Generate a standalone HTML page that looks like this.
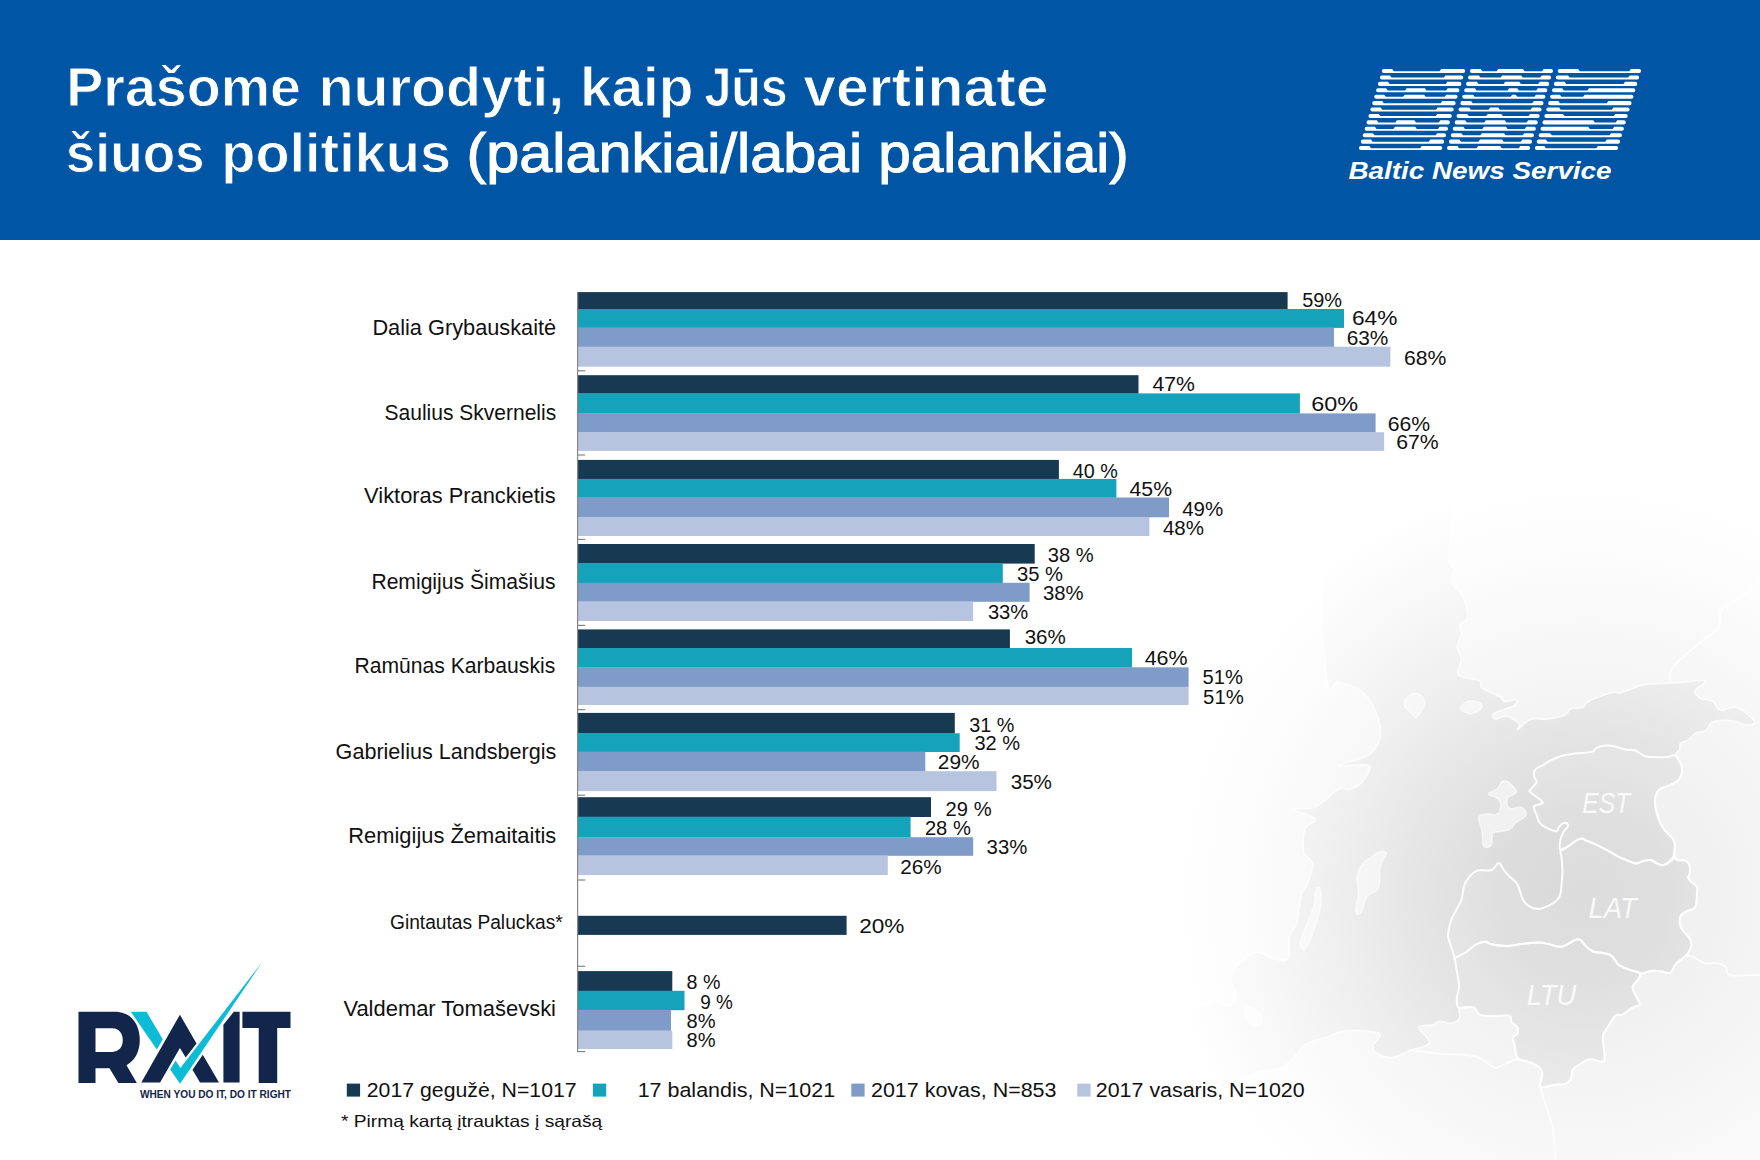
<!DOCTYPE html>
<html lang="lt"><head><meta charset="utf-8"><title>BNS / RAIT</title>
<style>
html,body{margin:0;padding:0;background:#fff;}
body{width:1760px;height:1160px;overflow:hidden;font-family:"Liberation Sans", sans-serif;}
svg{display:block;font-family:"Liberation Sans", sans-serif;}
text{font-family:"Liberation Sans", sans-serif;white-space:pre;}
</style></head><body>
<svg width="1760" height="1160" viewBox="0 0 1760 1160">
<rect x="0" y="0" width="1760" height="240" fill="#0055a5"/>
<text x="66.3" y="106.0" font-size="55" fill="#fff" font-weight="bold" font-style="normal" text-anchor="start" textLength="234.6" lengthAdjust="spacingAndGlyphs" stroke="#0055a5" stroke-width="0.9">Prašome</text>
<text x="318.5" y="106.0" font-size="55" fill="#fff" font-weight="bold" font-style="normal" text-anchor="start" textLength="245.7" lengthAdjust="spacingAndGlyphs" stroke="#0055a5" stroke-width="0.9">nurodyti,</text>
<text x="579.9" y="106.0" font-size="55" fill="#fff" font-weight="bold" font-style="normal" text-anchor="start" textLength="113.6" lengthAdjust="spacingAndGlyphs" stroke="#0055a5" stroke-width="0.9">kaip</text>
<text x="704.4" y="106.0" font-size="55" fill="#fff" font-weight="bold" font-style="normal" text-anchor="start" textLength="83.3" lengthAdjust="spacingAndGlyphs" stroke="#0055a5" stroke-width="0.9">Jūs</text>
<text x="803.2" y="106.0" font-size="55" fill="#fff" font-weight="bold" font-style="normal" text-anchor="start" textLength="245.4" lengthAdjust="spacingAndGlyphs" stroke="#0055a5" stroke-width="0.9">vertinate</text>
<text x="65.8" y="172.3" font-size="55" fill="#fff" font-weight="bold" font-style="normal" text-anchor="start" textLength="138.9" lengthAdjust="spacingAndGlyphs" stroke="#0055a5" stroke-width="0.9">šiuos</text>
<text x="221.3" y="172.3" font-size="55" fill="#fff" font-weight="bold" font-style="normal" text-anchor="start" textLength="229.7" lengthAdjust="spacingAndGlyphs" stroke="#0055a5" stroke-width="0.9">politikus</text>
<text x="466.6" y="172.3" font-size="55" fill="#fff" font-weight="normal" font-style="normal" text-anchor="start" textLength="395.7" lengthAdjust="spacingAndGlyphs" stroke="#fff" stroke-width="1.1">(palankiai/labai</text>
<text x="878.2" y="172.3" font-size="55" fill="#fff" font-weight="normal" font-style="normal" text-anchor="start" textLength="250.5" lengthAdjust="spacingAndGlyphs" stroke="#fff" stroke-width="1.1">palankiai)</text>
<path fill="#fff" d="M1383.85,69.00L1392.27,69.00 L1393.87,71.20L1439.55,71.20 L1441.15,69.00L1463.15,69.00A2.05,2.05 0 0 1 1463.15,73.10L1383.85,73.10A2.05,2.05 0 0 1 1383.85,69.00Z M1381.94,75.42L1389.98,75.42 L1391.58,77.62L1443.85,77.62 L1445.45,75.42L1461.24,75.42A2.05,2.05 0 0 1 1461.24,79.52L1381.94,79.52A2.05,2.05 0 0 1 1381.94,75.42Z M1380.03,81.83L1387.99,81.83 L1389.59,84.03L1445.74,84.03 L1447.34,81.83L1459.33,81.83A2.05,2.05 0 0 1 1459.33,85.93L1380.03,85.93A2.05,2.05 0 0 1 1380.03,81.83Z M1378.12,88.25L1386.08,88.25 L1387.68,90.45L1405.04,90.45 L1406.64,88.25L1424.87,88.25 L1426.47,90.45L1446.16,90.45 L1447.76,88.25L1457.42,88.25A2.05,2.05 0 0 1 1457.42,92.35L1378.12,92.35A2.05,2.05 0 0 1 1378.12,88.25Z M1376.22,94.67L1384.17,94.67 L1385.77,96.87L1403.13,96.87 L1404.73,94.67L1424.13,94.67 L1425.73,96.87L1444.64,96.87 L1446.24,94.67L1455.51,94.67A2.05,2.05 0 0 1 1455.51,98.77L1376.22,98.77A2.05,2.05 0 0 1 1376.22,94.67Z M1374.31,101.09L1382.19,101.09 L1383.79,103.28L1440.71,103.28 L1442.31,101.09L1453.61,101.09A2.05,2.05 0 0 1 1453.61,105.19L1374.31,105.19A2.05,2.05 0 0 1 1374.31,101.09Z M1372.40,107.50L1380.67,107.50 L1382.27,109.70L1436.09,109.70 L1437.69,107.50L1451.70,107.50A2.05,2.05 0 0 1 1451.70,111.60L1372.40,111.60A2.05,2.05 0 0 1 1372.40,107.50Z M1370.49,113.92L1378.76,113.92 L1380.36,116.12L1435.73,116.12 L1437.33,113.92L1449.79,113.92A2.05,2.05 0 0 1 1449.79,118.02L1370.49,118.02A2.05,2.05 0 0 1 1370.49,113.92Z M1368.58,120.34L1376.77,120.34 L1378.37,122.54L1395.34,122.54 L1396.94,120.34L1414.40,120.34 L1416.00,122.54L1438.79,122.54 L1440.39,120.34L1447.88,120.34A2.05,2.05 0 0 1 1447.88,124.44L1368.58,124.44A2.05,2.05 0 0 1 1368.58,120.34Z M1366.67,126.75L1374.86,126.75 L1376.46,128.95L1393.44,128.95 L1395.04,126.75L1415.21,126.75 L1416.81,128.95L1438.04,128.95 L1439.64,126.75L1445.97,126.75A2.05,2.05 0 0 1 1445.97,130.85L1366.67,130.85A2.05,2.05 0 0 1 1366.67,126.75Z M1364.77,133.17L1372.88,133.17 L1374.48,135.37L1435.67,135.37 L1437.27,133.17L1444.06,133.17A2.05,2.05 0 0 1 1444.06,137.27L1364.77,137.27A2.05,2.05 0 0 1 1364.77,133.17Z M1362.86,139.59L1370.97,139.59 L1372.57,141.79L1428.72,141.79 L1430.32,139.59L1442.15,139.59A2.05,2.05 0 0 1 1442.15,143.69L1362.86,143.69A2.05,2.05 0 0 1 1362.86,139.59Z M1360.95,146.00L1369.37,146.00 L1370.97,148.20L1420.14,148.20 L1421.74,146.00L1440.25,146.00A2.05,2.05 0 0 1 1440.25,150.10L1360.95,150.10A2.05,2.05 0 0 1 1360.95,146.00Z M1471.95,69.00L1480.76,69.00 L1482.36,71.20L1496.62,71.20 L1498.22,69.00L1523.04,69.00 L1524.64,71.20L1542.00,71.20 L1543.60,69.00L1551.02,69.00A2.05,2.05 0 0 1 1551.02,73.10L1471.95,73.10A2.05,2.05 0 0 1 1471.95,69.00Z M1470.04,75.42L1478.85,75.42 L1480.45,77.62L1500.53,77.62 L1502.13,75.42L1521.13,75.42 L1522.73,77.62L1540.09,77.62 L1541.69,75.42L1549.11,75.42A2.05,2.05 0 0 1 1549.11,79.52L1470.04,79.52A2.05,2.05 0 0 1 1470.04,75.42Z M1468.13,81.83L1476.87,81.83 L1478.47,84.03L1503.58,84.03 L1505.18,81.83L1519.23,81.83 L1520.83,84.03L1538.18,84.03 L1539.78,81.83L1547.20,81.83A2.05,2.05 0 0 1 1547.20,85.93L1468.13,85.93A2.05,2.05 0 0 1 1468.13,81.83Z M1466.22,88.25L1474.96,88.25 L1476.56,90.45L1507.49,90.45 L1509.09,88.25L1517.32,88.25 L1518.92,90.45L1536.28,90.45 L1537.88,88.25L1545.29,88.25A2.05,2.05 0 0 1 1545.29,92.35L1466.22,92.35A2.05,2.05 0 0 1 1466.22,88.25Z M1464.32,94.67L1473.05,94.67 L1474.65,96.87L1510.63,96.87 L1512.23,94.67L1515.72,94.67 L1517.32,96.87L1534.37,96.87 L1535.97,94.67L1543.38,94.67A2.05,2.05 0 0 1 1543.38,98.77L1464.32,98.77A2.05,2.05 0 0 1 1464.32,94.67Z M1462.41,101.09L1471.06,101.09 L1472.66,103.28L1532.30,103.28 L1533.90,101.09L1541.47,101.09A2.05,2.05 0 0 1 1541.47,105.19L1462.41,105.19A2.05,2.05 0 0 1 1462.41,101.09Z M1460.50,107.50L1469.16,107.50 L1470.76,109.70L1488.50,109.70 L1490.10,107.50L1498.25,107.50 L1499.85,109.70L1530.55,109.70 L1532.15,107.50L1539.56,107.50A2.05,2.05 0 0 1 1539.56,111.60L1460.50,111.60A2.05,2.05 0 0 1 1460.50,107.50Z M1458.59,113.92L1467.17,113.92 L1468.77,116.12L1486.13,116.12 L1487.73,113.92L1501.30,113.92 L1502.90,116.12L1528.49,116.12 L1530.09,113.92L1537.66,113.92A2.05,2.05 0 0 1 1537.66,118.02L1458.59,118.02A2.05,2.05 0 0 1 1458.59,113.92Z M1456.68,120.34L1465.26,120.34 L1466.86,122.54L1484.22,122.54 L1485.82,120.34L1504.83,120.34 L1506.43,122.54L1526.58,122.54 L1528.18,120.34L1535.75,120.34A2.05,2.05 0 0 1 1535.75,124.44L1456.68,124.44A2.05,2.05 0 0 1 1456.68,120.34Z M1454.77,126.75L1463.35,126.75 L1464.95,128.95L1482.31,128.95 L1483.91,126.75L1506.02,126.75 L1507.62,128.95L1524.67,128.95 L1526.27,126.75L1533.84,126.75A2.05,2.05 0 0 1 1533.84,130.85L1454.77,130.85A2.05,2.05 0 0 1 1454.77,126.75Z M1452.87,133.17L1461.37,133.17 L1462.97,135.37L1480.32,135.37 L1481.92,133.17L1504.03,133.17 L1505.63,135.37L1522.68,135.37 L1524.28,133.17L1531.93,133.17A2.05,2.05 0 0 1 1531.93,137.27L1452.87,137.27A2.05,2.05 0 0 1 1452.87,133.17Z M1450.96,139.59L1459.46,139.59 L1461.06,141.79L1478.42,141.79 L1480.02,139.59L1502.13,139.59 L1503.73,141.79L1520.77,141.79 L1522.37,139.59L1530.02,139.59A2.05,2.05 0 0 1 1530.02,143.69L1450.96,143.69A2.05,2.05 0 0 1 1450.96,139.59Z M1449.05,146.00L1457.47,146.00 L1459.07,148.20L1476.43,148.20 L1478.03,146.00L1500.14,146.00 L1501.74,148.20L1518.79,148.20 L1520.39,146.00L1528.11,146.00A2.05,2.05 0 0 1 1528.11,150.10L1449.05,150.10A2.05,2.05 0 0 1 1449.05,146.00Z M1559.75,69.00L1578.10,69.00 L1579.70,71.20L1629.26,71.20 L1630.86,69.00L1639.05,69.00A2.05,2.05 0 0 1 1639.05,73.10L1559.75,73.10A2.05,2.05 0 0 1 1559.75,69.00Z M1557.84,75.42L1568.05,75.42 L1569.65,77.62L1628.12,77.62 L1629.72,75.42L1637.14,75.42A2.05,2.05 0 0 1 1637.14,79.52L1557.84,79.52A2.05,2.05 0 0 1 1557.84,75.42Z M1555.93,81.83L1564.51,81.83 L1566.11,84.03L1623.42,84.03 L1625.02,81.83L1635.23,81.83A2.05,2.05 0 0 1 1635.23,85.93L1555.93,85.93A2.05,2.05 0 0 1 1555.93,81.83Z M1554.02,88.25L1562.22,88.25 L1563.82,90.45L1587.38,90.45 L1588.98,88.25L1633.32,88.25A2.05,2.05 0 0 1 1633.32,92.35L1554.02,92.35A2.05,2.05 0 0 1 1554.02,88.25Z M1552.12,94.67L1559.84,94.67 L1561.44,96.87L1583.07,96.87 L1584.67,94.67L1631.41,94.67A2.05,2.05 0 0 1 1631.41,98.77L1552.12,98.77A2.05,2.05 0 0 1 1552.12,94.67Z M1550.21,101.09L1558.32,101.09 L1559.92,103.28L1606.76,103.28 L1608.36,101.09L1629.51,101.09A2.05,2.05 0 0 1 1629.51,105.19L1550.21,105.19A2.05,2.05 0 0 1 1550.21,101.09Z M1548.30,107.50L1559.13,107.50 L1560.73,109.70L1611.83,109.70 L1613.43,107.50L1627.60,107.50A2.05,2.05 0 0 1 1627.60,111.60L1548.30,111.60A2.05,2.05 0 0 1 1548.30,107.50Z M1546.39,113.92L1562.96,113.92 L1564.56,116.12L1613.73,116.12 L1615.33,113.92L1625.69,113.92A2.05,2.05 0 0 1 1625.69,118.02L1546.39,118.02A2.05,2.05 0 0 1 1546.39,113.92Z M1544.48,120.34L1593.25,120.34 L1594.85,122.54L1615.70,122.54 L1617.30,120.34L1623.78,120.34A2.05,2.05 0 0 1 1623.78,124.44L1544.48,124.44A2.05,2.05 0 0 1 1544.48,120.34Z M1542.57,126.75L1588.24,126.75 L1589.84,128.95L1612.62,128.95 L1614.22,126.75L1621.87,126.75A2.05,2.05 0 0 1 1621.87,130.85L1542.57,130.85A2.05,2.05 0 0 1 1542.57,126.75Z M1540.67,133.17L1550.17,133.17 L1551.77,135.37L1609.47,135.37 L1611.07,133.17L1619.96,133.17A2.05,2.05 0 0 1 1619.96,137.27L1540.67,137.27A2.05,2.05 0 0 1 1540.67,133.17Z M1538.76,139.59L1545.94,139.59 L1547.54,141.79L1605.24,141.79 L1606.84,139.59L1618.05,139.59A2.05,2.05 0 0 1 1618.05,143.69L1538.76,143.69A2.05,2.05 0 0 1 1538.76,139.59Z M1536.85,146.00L1544.34,146.00 L1545.94,148.20L1596.27,148.20 L1597.87,146.00L1616.15,146.00A2.05,2.05 0 0 1 1616.15,150.10L1536.85,150.10A2.05,2.05 0 0 1 1536.85,146.00Z"/>
<text x="1348.4" y="179.2" font-size="24.6" fill="#fff" font-weight="bold" font-style="italic" textLength="263.2" lengthAdjust="spacingAndGlyphs">Baltic News Service</text>

<defs>
<radialGradient id="gsea" gradientUnits="userSpaceOnUse" cx="1585" cy="895" r="420">
<stop offset="0" stop-color="#d9d9d9"/><stop offset="0.2" stop-color="#dcdcdc"/><stop offset="0.4" stop-color="#e5e5e5"/><stop offset="0.6" stop-color="#efefef"/><stop offset="0.8" stop-color="#f8f8f8"/><stop offset="1" stop-color="#ffffff"/>
</radialGradient>
<radialGradient id="gland" gradientUnits="userSpaceOnUse" cx="1585" cy="895" r="420">
<stop offset="0" stop-color="#eeeeee"/><stop offset="0.3" stop-color="#f1f1f1"/><stop offset="0.6" stop-color="#f7f7f7"/><stop offset="0.85" stop-color="#fdfdfd"/><stop offset="1" stop-color="#ffffff"/>
</radialGradient>
<clipPath id="mapclip"><rect x="1180" y="240" width="580" height="920"/></clipPath>
</defs>
<g clip-path="url(#mapclip)">
<rect x="1100" y="440" width="700" height="760" fill="url(#gland)"/>
<path d="M1335.0,440.0C1355.7,440.0 1428.9,424.6 1449.8,440.0C1470.7,455.4 1451.5,504.4 1451.2,525.7C1450.9,547.0 1447.8,550.2 1448.3,558.2C1448.8,566.2 1453.7,565.8 1454.2,570.0C1454.7,574.2 1449.6,577.0 1451.2,581.8C1452.8,586.6 1460.1,590.2 1463.0,596.6C1465.9,603.0 1468.0,612.3 1467.5,617.3C1467.0,622.3 1461.3,621.4 1460.1,624.6C1458.9,627.8 1461.5,631.0 1461.0,635.0C1460.5,639.0 1457.1,642.6 1457.1,646.8C1457.1,651.0 1460.7,653.5 1461.0,658.6C1461.3,663.7 1455.3,670.9 1458.6,674.9C1461.9,678.9 1475.1,678.4 1479.3,680.8C1483.5,683.2 1478.5,685.3 1482.2,688.2C1485.9,691.1 1496.0,694.6 1500.0,697.0C1504.0,699.4 1501.5,700.9 1504.4,701.4C1507.3,701.9 1514.6,699.2 1516.2,700.0C1517.8,700.8 1517.3,703.5 1513.3,705.9C1509.3,708.3 1497.3,710.9 1494.1,713.3C1490.9,715.7 1493.4,718.7 1495.5,719.2C1497.6,719.7 1501.6,715.4 1505.9,716.2C1510.2,717.0 1517.1,721.2 1519.2,723.6C1521.3,726.0 1515.6,730.3 1517.7,729.5C1519.8,728.7 1525.7,721.1 1531.0,719.2C1536.3,717.3 1541.1,720.0 1547.2,719.2C1553.3,718.4 1560.7,716.6 1565.0,714.7C1569.3,712.8 1567.7,710.1 1570.9,708.8C1574.1,707.5 1579.5,708.7 1582.7,707.4C1585.9,706.1 1583.3,704.1 1588.6,701.4C1593.9,698.7 1606.4,694.2 1612.2,692.6C1618.0,691.0 1615.8,693.9 1621.1,692.6C1626.4,691.3 1634.9,686.8 1641.8,685.2C1648.7,683.6 1652.1,684.2 1659.5,683.7C1666.9,683.2 1674.9,682.7 1683.1,682.2C1691.3,681.7 1703.2,679.2 1705.3,680.8C1707.4,682.4 1695.7,687.9 1694.9,691.1C1694.1,694.3 1697.7,696.6 1700.9,698.5C1704.1,700.4 1709.2,699.3 1712.7,701.4C1716.2,703.5 1715.9,709.2 1720.1,710.3C1724.3,711.4 1730.2,705.5 1736.3,707.4C1742.4,709.3 1751.9,717.4 1754.0,720.6C1756.1,723.8 1752.3,725.1 1748.1,725.1C1743.9,725.1 1736.8,721.1 1730.4,720.6C1724.0,720.1 1717.2,720.2 1712.7,722.1C1708.2,724.0 1708.2,729.1 1705.3,731.0C1702.4,732.9 1699.5,730.9 1696.4,732.5C1693.3,734.1 1691.2,737.8 1688.3,739.8C1685.4,741.8 1681.7,741.8 1680.2,743.5C1678.7,745.2 1680.6,747.2 1679.7,749.3C1678.8,751.4 1675.2,752.8 1675.3,755.3C1675.4,757.8 1679.3,760.5 1680.5,763.1C1681.7,765.7 1682.3,767.2 1682.2,770.0C1682.1,772.8 1681.7,776.0 1679.7,778.6C1677.7,781.2 1674.6,782.8 1671.0,784.7C1667.4,786.6 1662.6,787.0 1659.8,789.0C1657.0,791.0 1656.3,792.8 1655.5,795.9C1654.7,799.0 1654.6,801.9 1655.2,806.2C1655.8,810.5 1657.4,815.8 1659.0,820.0C1660.6,824.2 1661.4,825.6 1664.1,829.5C1666.8,833.4 1672.4,836.6 1674.1,841.6C1675.8,846.6 1672.9,853.8 1673.6,857.1C1674.3,860.4 1675.9,859.4 1677.9,860.0C1679.9,860.6 1682.8,859.8 1684.8,860.5C1686.8,861.2 1688.2,862.0 1689.1,864.0C1690.0,866.0 1690.1,869.2 1690.0,871.7C1689.9,874.2 1688.0,875.9 1688.3,877.8C1688.6,879.7 1690.2,880.4 1691.7,882.1C1693.2,883.8 1696.0,885.0 1696.9,887.2C1697.8,889.4 1697.2,890.5 1696.9,894.1C1696.6,897.7 1697.1,904.2 1695.2,907.3C1693.3,910.4 1689.2,909.7 1686.6,911.3C1684.0,912.9 1681.5,913.1 1680.5,916.0C1679.5,918.9 1679.5,923.6 1680.9,927.4C1682.3,931.2 1686.6,933.8 1688.5,936.9C1690.4,940.0 1691.7,941.3 1691.4,944.5C1691.1,947.7 1689.3,951.5 1686.6,954.9C1683.9,958.3 1679.1,960.3 1676.2,963.5C1673.3,966.7 1673.1,971.1 1670.5,972.6C1667.9,974.1 1665.2,971.9 1662.0,971.6C1658.8,971.3 1656.3,970.3 1652.5,970.7C1648.7,971.1 1643.7,972.3 1641.1,973.9C1638.5,975.5 1639.7,977.2 1638.2,979.6C1636.7,982.0 1632.8,984.1 1632.5,987.2C1632.2,990.3 1635.0,993.6 1636.3,996.7C1637.6,999.8 1640.4,1002.2 1639.6,1004.3C1638.8,1006.4 1634.8,1006.2 1631.6,1008.1C1628.4,1010.0 1625.0,1013.4 1622.1,1014.7C1619.2,1016.1 1618.4,1012.9 1615.5,1015.6C1612.6,1018.3 1608.3,1026.0 1606.0,1029.9C1603.7,1033.8 1603.0,1032.4 1602.8,1037.5C1602.6,1042.6 1605.2,1053.9 1604.7,1058.3C1604.2,1062.7 1603.0,1061.5 1600.3,1061.7C1597.6,1061.9 1593.5,1058.9 1589.9,1059.3C1586.3,1059.7 1583.5,1062.1 1580.4,1064.0C1577.3,1065.9 1574.5,1067.0 1572.8,1069.7C1571.1,1072.4 1572.3,1076.6 1570.9,1079.2C1569.5,1081.8 1568.3,1082.9 1565.2,1083.9C1562.1,1084.9 1558.2,1084.4 1553.8,1084.9C1549.4,1085.4 1542.6,1088.9 1540.5,1086.8C1538.4,1084.7 1542.7,1077.1 1542.4,1073.5C1542.1,1069.9 1541.0,1069.0 1538.6,1066.9C1536.2,1064.8 1532.9,1063.6 1529.2,1062.1C1525.5,1060.6 1520.4,1061.0 1517.8,1058.3C1515.2,1055.6 1515.8,1050.6 1514.9,1046.9C1514.0,1043.2 1512.5,1039.9 1513.0,1037.5C1513.5,1035.1 1516.6,1035.6 1517.4,1033.7C1518.2,1031.8 1518.4,1029.1 1517.4,1027.0C1516.4,1024.9 1513.2,1024.4 1511.7,1022.3C1510.2,1020.2 1512.2,1016.7 1509.2,1015.6C1506.2,1014.5 1500.1,1016.3 1495.0,1016.2C1489.9,1016.1 1484.0,1015.9 1480.8,1015.1C1477.6,1014.3 1478.2,1013.2 1477.0,1011.8C1475.8,1010.4 1475.6,1008.3 1474.1,1007.5C1472.6,1006.7 1471.2,1007.0 1468.5,1007.1C1465.8,1007.2 1460.5,1006.3 1459.0,1008.0C1457.5,1009.7 1460.2,1014.2 1459.9,1016.6C1459.6,1019.0 1459.0,1020.1 1457.1,1021.3C1455.2,1022.5 1452.6,1023.2 1449.5,1023.2C1446.4,1023.2 1443.2,1021.0 1440.0,1021.3C1436.8,1021.6 1435.7,1023.8 1431.8,1024.9C1427.9,1026.0 1418.9,1024.0 1418.5,1027.3C1418.1,1030.6 1430.9,1038.9 1429.4,1043.0C1427.9,1047.1 1414.9,1048.3 1410.1,1050.2C1405.3,1052.1 1406.3,1052.5 1402.8,1053.8C1399.3,1055.1 1395.3,1057.5 1390.7,1057.5C1386.1,1057.5 1380.8,1055.8 1377.5,1053.8C1374.2,1051.8 1372.4,1050.3 1372.6,1046.6C1372.8,1042.9 1383.7,1036.1 1378.7,1033.3C1373.7,1030.5 1354.0,1030.3 1344.9,1030.9C1335.8,1031.5 1335.0,1034.5 1328.0,1036.9C1321.0,1039.3 1314.0,1039.0 1306.2,1044.2C1298.4,1049.4 1293.6,1060.7 1284.5,1065.9C1275.4,1071.1 1265.3,1069.8 1255.5,1073.2C1245.7,1076.6 1240.0,1081.1 1230.0,1085.0C1220.0,1088.9 1214.4,1092.3 1200.0,1095.0C1185.6,1097.7 1168.0,1099.1 1150.0,1100.0C1132.0,1100.9 1109.0,1117.1 1100.0,1100.0C1091.0,1082.9 1091.0,1022.1 1100.0,1005.0C1109.0,987.9 1132.0,1004.9 1150.0,1005.0C1168.0,1005.1 1188.4,1006.4 1200.0,1005.6C1211.6,1004.8 1209.3,1000.7 1214.5,1000.7C1219.7,1000.7 1225.1,1006.5 1229.0,1005.6C1232.9,1004.7 1236.0,1001.1 1236.2,995.9C1236.4,990.7 1229.8,982.3 1230.2,976.6C1230.6,970.9 1233.8,968.9 1238.6,964.5C1243.4,960.1 1250.6,953.5 1256.7,952.4C1262.8,951.3 1266.7,957.4 1272.4,958.5C1278.1,959.6 1285.1,962.6 1288.1,958.5C1291.1,954.4 1287.8,941.8 1289.3,935.5C1290.8,929.2 1294.4,930.9 1296.6,923.5C1298.8,916.1 1299.9,900.8 1301.4,894.5C1302.9,888.2 1303.0,893.8 1305.1,888.4C1307.2,883.0 1313.2,871.0 1313.0,864.6C1312.8,858.2 1305.3,859.1 1303.9,852.7C1302.5,846.3 1303.1,835.0 1305.1,828.9C1307.1,822.8 1317.1,822.6 1315.0,819.0C1312.9,815.4 1293.2,811.2 1293.2,809.1C1293.2,807.0 1306.8,810.7 1315.0,807.1C1323.2,803.5 1332.4,792.5 1338.8,789.3C1345.2,786.1 1346.4,790.7 1350.7,789.3C1355.0,787.9 1359.4,785.6 1362.6,781.3C1365.8,777.0 1372.8,768.3 1368.5,765.5C1364.2,762.7 1338.4,767.6 1338.8,765.5C1339.2,763.4 1363.0,760.0 1370.5,753.6C1378.0,747.2 1381.1,740.1 1380.4,729.8C1379.7,719.4 1374.0,704.7 1366.5,696.1C1359.0,687.5 1345.6,683.3 1338.8,682.2C1332.0,681.1 1331.4,694.4 1328.9,690.1C1326.4,685.8 1326.3,672.7 1324.9,658.4C1323.5,644.1 1321.4,632.1 1320.9,610.8C1320.4,589.5 1319.5,570.7 1322.0,540.0C1324.5,509.3 1332.7,458.0 1335.0,440.0C1337.3,422.0 1314.3,440.0 1335.0,440.0Z" fill="url(#gsea)" stroke="#fff" stroke-opacity="0.75" stroke-width="1.6" stroke-linejoin="round"/>
<path d="M1504.7,780.7C1508.9,780.9 1513.8,786.9 1515.9,789.8C1518.0,792.7 1515.8,792.4 1514.1,794.1C1512.4,795.8 1509.6,795.3 1508.1,797.6C1506.6,799.9 1506.6,802.0 1507.2,804.5C1507.8,807.0 1507.7,808.2 1510.7,808.8C1513.7,809.4 1517.6,806.0 1521.0,807.1C1524.4,808.2 1525.8,811.5 1526.2,814.0C1526.6,816.5 1525.1,816.4 1522.8,818.3C1520.5,820.2 1518.9,820.1 1515.9,822.6C1512.9,825.1 1513.6,827.4 1509.0,829.5C1504.4,831.6 1498.8,831.2 1495.2,832.1C1491.6,833.0 1493.4,831.3 1492.6,833.8C1491.8,836.3 1492.6,840.4 1491.7,843.3C1490.8,846.2 1490.2,846.8 1488.3,847.2C1486.4,847.6 1484.4,848.3 1483.1,845.0C1481.8,841.7 1483.1,838.2 1482.2,832.1C1481.3,826.0 1477.8,821.4 1478.8,817.4C1479.8,813.4 1483.0,814.6 1486.6,814.0C1490.2,813.4 1492.4,815.1 1495.2,814.5C1498.0,813.9 1498.4,814.0 1499.5,811.4C1500.6,808.8 1501.1,805.8 1500.3,802.8C1499.5,799.8 1498.6,799.6 1496.0,797.6C1493.4,795.6 1488.1,795.7 1488.3,793.8C1488.5,791.9 1493.3,791.9 1496.9,789.0C1500.5,786.1 1500.5,780.5 1504.7,780.7Z" fill="url(#gland)" stroke="#fff" stroke-opacity="0.6" stroke-width="1.4" stroke-linejoin="round"/>
<path d="M1386.4,852.7C1387.6,855.2 1381.7,858.4 1380.0,866.0C1378.3,873.6 1381.6,880.4 1378.7,887.2C1375.8,894.0 1370.3,891.6 1366.6,896.9C1362.9,902.2 1364.2,908.2 1361.8,911.4C1359.4,914.6 1356.5,915.1 1355.7,911.4C1354.9,907.7 1357.5,903.5 1358.1,894.5C1358.7,885.5 1355.0,879.4 1358.6,870.6C1362.2,861.8 1368.4,858.6 1374.5,854.7C1380.6,850.8 1385.2,850.2 1386.4,852.7Z" fill="url(#gland)" stroke="#fff" stroke-opacity="0.6" stroke-width="1.4" stroke-linejoin="round"/>
<path d="M1315.9,889.7C1317.5,886.2 1319.9,886.1 1320.7,890.9C1321.5,895.7 1322.4,899.5 1319.5,911.4C1316.6,923.3 1311.4,937.2 1307.4,945.2C1303.4,953.2 1302.7,949.2 1301.4,947.6C1300.1,946.0 1298.7,946.9 1301.4,937.9C1304.1,928.9 1310.3,917.2 1313.5,906.6C1316.7,896.0 1314.3,893.2 1315.9,889.7Z" fill="url(#gland)" stroke="#fff" stroke-opacity="0.6" stroke-width="1.4" stroke-linejoin="round"/>
<path d="M1244.7,1011.6C1245.0,1008.1 1247.0,1005.5 1250.7,1006.8C1254.4,1008.1 1260.3,1013.4 1261.6,1017.6C1262.9,1021.8 1259.4,1025.0 1256.7,1026.1C1254.0,1027.2 1252.1,1025.7 1249.5,1022.5C1246.9,1019.3 1244.4,1015.1 1244.7,1011.6Z" fill="url(#gland)" stroke="#fff" stroke-opacity="0.6" stroke-width="1.4" stroke-linejoin="round"/>
<path d="M1404.0,703.0C1404.5,698.5 1409.8,693.9 1414.3,693.5C1418.8,693.1 1423.9,696.4 1424.6,701.4C1425.3,706.4 1420.1,713.4 1417.3,716.2C1414.5,719.0 1414.9,716.9 1412.0,714.0C1409.1,711.1 1403.5,707.5 1404.0,703.0Z" fill="url(#gland)" stroke="#fff" stroke-opacity="0.6" stroke-width="1.4" stroke-linejoin="round"/>
<path d="M1461.6,705.9C1463.6,703.6 1467.4,700.6 1471.9,700.6C1476.4,700.6 1481.9,703.1 1482.2,705.9C1482.5,708.7 1477.6,712.1 1473.4,713.3C1469.2,714.5 1465.6,712.8 1463.0,711.2C1460.4,709.6 1459.6,708.2 1461.6,705.9Z" fill="url(#gland)" stroke="#fff" stroke-opacity="0.6" stroke-width="1.4" stroke-linejoin="round"/>
<path d="M1534.0,771.7C1534.5,770.8 1534.9,769.5 1536.6,768.3C1538.3,767.1 1540.9,766.2 1543.4,764.8C1545.9,763.4 1547.2,762.0 1550.3,760.5C1553.4,759.0 1556.3,757.4 1560.7,756.2C1565.1,755.0 1568.9,754.4 1574.5,753.6C1580.1,752.8 1587.7,753.0 1591.7,751.9C1595.7,750.8 1594.4,748.8 1596.9,747.6C1599.4,746.4 1602.4,745.8 1605.5,745.5C1608.6,745.2 1610.4,745.4 1614.1,746.2C1617.8,747.0 1622.5,749.0 1626.2,749.7C1629.9,750.4 1631.4,749.0 1634.8,750.2C1638.2,751.4 1641.5,755.0 1645.2,756.2C1648.9,757.4 1651.5,756.9 1655.5,757.1C1659.5,757.3 1664.0,757.4 1667.6,757.1C1671.2,756.8 1673.0,754.2 1675.3,755.3C1677.6,756.4 1679.3,760.5 1680.5,763.1C1681.7,765.7 1682.3,767.2 1682.2,770.0C1682.1,772.8 1681.7,776.0 1679.7,778.6C1677.7,781.2 1674.6,782.8 1671.0,784.7C1667.4,786.6 1662.6,787.0 1659.8,789.0C1657.0,791.0 1656.3,792.8 1655.5,795.9C1654.7,799.0 1654.6,801.9 1655.2,806.2C1655.8,810.5 1657.4,815.8 1659.0,820.0C1660.6,824.2 1661.4,825.6 1664.1,829.5C1666.8,833.4 1672.4,836.6 1674.1,841.6C1675.8,846.6 1674.8,853.2 1673.6,857.1C1672.4,861.0 1669.6,861.6 1667.6,863.1C1665.6,864.6 1664.4,865.2 1662.4,865.2C1660.4,865.2 1658.6,864.0 1656.4,863.1C1654.2,862.2 1652.6,860.4 1650.3,860.0C1648.0,859.6 1645.9,860.4 1643.4,861.0C1640.9,861.6 1639.1,863.3 1636.6,863.4C1634.1,863.5 1632.8,862.5 1629.7,861.4C1626.6,860.3 1623.7,859.3 1619.3,857.1C1614.9,854.9 1610.2,851.8 1605.5,849.3C1600.8,846.8 1596.8,844.8 1593.4,843.3C1590.0,841.8 1588.6,841.5 1586.6,840.7C1584.6,839.9 1584.1,838.6 1582.2,838.6C1580.3,838.6 1578.8,839.2 1576.2,840.7C1573.6,842.2 1570.4,845.0 1567.6,846.7C1564.8,848.4 1562.0,851.3 1560.7,850.2C1559.4,849.1 1559.7,844.0 1560.2,840.7C1560.7,837.4 1562.0,834.6 1563.3,832.1C1564.6,829.6 1566.9,828.5 1567.6,826.9C1568.3,825.3 1568.0,824.1 1567.2,823.4C1566.4,822.7 1564.8,822.5 1563.3,823.1C1561.8,823.7 1560.4,825.4 1559.0,826.9C1557.6,828.4 1558.8,831.7 1555.5,831.2C1552.2,830.7 1544.3,827.3 1540.9,824.3C1537.5,821.3 1537.8,818.1 1536.6,814.8C1535.4,811.5 1532.9,808.4 1534.0,806.2C1535.1,804.0 1543.2,804.9 1542.6,802.4C1542.0,799.9 1532.7,794.7 1530.5,792.4C1528.3,790.1 1529.4,791.7 1530.5,789.8C1531.6,787.9 1535.9,784.3 1536.6,782.1C1537.3,779.9 1535.0,779.4 1534.5,777.8C1534.0,776.2 1534.1,774.5 1534.0,773.4C1533.9,772.3 1533.5,772.6 1534.0,771.7Z" fill="#fff" fill-opacity="0.10" stroke="#fff" stroke-opacity="0.95" stroke-width="2" stroke-linejoin="round"/>
<path d="M1454.8,957.8C1454.0,955.4 1451.6,948.6 1450.4,944.5C1449.2,940.4 1447.8,939.4 1448.0,935.0C1448.2,930.6 1449.8,924.6 1451.4,919.8C1453.0,915.0 1455.3,912.2 1457.1,908.5C1458.9,904.8 1460.3,903.4 1461.6,899.3C1462.9,895.2 1462.7,889.5 1464.1,885.5C1465.5,881.5 1467.1,879.5 1469.3,876.9C1471.5,874.3 1473.7,872.1 1476.2,870.9C1478.7,869.7 1480.3,870.5 1483.1,870.3C1485.9,870.1 1489.1,871.2 1491.7,870.0C1494.3,868.8 1496.3,864.5 1497.8,863.4C1499.3,862.3 1499.2,862.8 1500.3,864.0C1501.4,865.2 1502.2,867.8 1503.8,870.0C1505.4,872.2 1506.8,873.8 1509.0,876.0C1511.2,878.2 1514.0,879.8 1515.9,882.1C1517.8,884.4 1518.1,885.9 1519.3,889.0C1520.5,892.1 1521.3,896.4 1522.8,899.3C1524.3,902.2 1525.4,903.6 1527.9,905.3C1530.4,907.0 1533.8,908.3 1536.6,908.8C1539.4,909.3 1540.3,909.0 1543.4,907.9C1546.5,906.8 1550.8,905.0 1553.8,902.8C1556.8,900.6 1558.4,899.3 1559.8,895.9C1561.2,892.5 1561.1,888.5 1561.6,883.8C1562.1,879.1 1562.4,874.7 1562.4,870.0C1562.4,865.3 1561.9,861.5 1561.6,857.9C1561.3,854.3 1559.6,852.2 1560.7,850.2C1561.8,848.2 1564.8,848.4 1567.6,846.7C1570.4,845.0 1573.6,842.2 1576.2,840.7C1578.8,839.2 1580.3,838.6 1582.2,838.6C1584.1,838.6 1584.6,839.9 1586.6,840.7C1588.6,841.5 1590.0,841.8 1593.4,843.3C1596.8,844.8 1600.8,846.8 1605.5,849.3C1610.2,851.8 1614.9,854.9 1619.3,857.1C1623.7,859.3 1626.6,860.3 1629.7,861.4C1632.8,862.5 1634.1,863.5 1636.6,863.4C1639.1,863.3 1640.9,861.6 1643.4,861.0C1645.9,860.4 1648.0,859.6 1650.3,860.0C1652.6,860.4 1654.2,862.2 1656.4,863.1C1658.6,864.0 1660.4,865.2 1662.4,865.2C1664.4,865.2 1665.6,864.6 1667.6,863.1C1669.6,861.6 1671.7,857.7 1673.6,857.1C1675.5,856.5 1675.9,859.4 1677.9,860.0C1679.9,860.6 1682.8,859.8 1684.8,860.5C1686.8,861.2 1688.2,862.0 1689.1,864.0C1690.0,866.0 1690.1,869.2 1690.0,871.7C1689.9,874.2 1688.0,875.9 1688.3,877.8C1688.6,879.7 1690.2,880.4 1691.7,882.1C1693.2,883.8 1696.0,885.0 1696.9,887.2C1697.8,889.4 1697.2,890.5 1696.9,894.1C1696.6,897.7 1697.1,904.2 1695.2,907.3C1693.3,910.4 1689.2,909.7 1686.6,911.3C1684.0,912.9 1681.5,913.1 1680.5,916.0C1679.5,918.9 1679.5,923.6 1680.9,927.4C1682.3,931.2 1686.6,933.8 1688.5,936.9C1690.4,940.0 1691.7,941.3 1691.4,944.5C1691.1,947.7 1689.3,951.5 1686.6,954.9C1683.9,958.3 1679.1,960.3 1676.2,963.5C1673.3,966.7 1673.1,971.1 1670.5,972.6C1667.9,974.1 1665.2,971.9 1662.0,971.6C1658.8,971.3 1656.3,970.3 1652.5,970.7C1648.7,971.1 1643.8,973.7 1641.1,973.9C1638.4,974.1 1639.7,972.8 1637.3,972.0C1634.9,971.2 1631.2,970.6 1627.8,969.2C1624.4,967.8 1621.2,966.8 1618.3,964.4C1615.4,962.0 1614.4,958.0 1611.7,955.9C1609.0,953.8 1606.3,953.8 1603.1,953.0C1599.9,952.2 1596.8,952.9 1593.7,951.7C1590.6,950.5 1588.5,948.5 1586.1,946.4C1583.7,944.3 1582.5,940.9 1580.4,939.8C1578.3,938.7 1577.1,939.5 1574.7,940.3C1572.3,941.1 1569.8,943.3 1567.1,944.5C1564.4,945.7 1562.6,946.8 1559.5,946.8C1556.4,946.8 1553.8,945.3 1550.0,944.5C1546.2,943.7 1543.7,942.7 1538.6,942.6C1533.5,942.5 1527.4,943.5 1521.6,944.1C1515.8,944.7 1511.7,945.9 1506.4,946.0C1501.1,946.1 1496.1,945.3 1492.2,944.5C1488.3,943.7 1487.5,941.7 1484.6,941.7C1481.7,941.7 1479.6,942.5 1476.0,944.5C1472.4,946.5 1468.5,950.6 1464.7,953.0C1460.9,955.4 1456.6,956.9 1454.8,957.8C1453.0,958.7 1455.6,960.2 1454.8,957.8Z" fill="#fff" fill-opacity="0.10" stroke="#fff" stroke-opacity="0.95" stroke-width="2" stroke-linejoin="round"/>
<path d="M1454.8,957.8C1456.6,956.9 1460.9,955.4 1464.7,953.0C1468.5,950.6 1472.4,946.5 1476.0,944.5C1479.6,942.5 1481.7,941.7 1484.6,941.7C1487.5,941.7 1488.3,943.7 1492.2,944.5C1496.1,945.3 1501.1,946.1 1506.4,946.0C1511.7,945.9 1515.8,944.7 1521.6,944.1C1527.4,943.5 1533.5,942.5 1538.6,942.6C1543.7,942.7 1546.2,943.7 1550.0,944.5C1553.8,945.3 1556.4,946.8 1559.5,946.8C1562.6,946.8 1564.4,945.7 1567.1,944.5C1569.8,943.3 1572.3,941.1 1574.7,940.3C1577.1,939.5 1578.3,938.7 1580.4,939.8C1582.5,940.9 1583.7,944.3 1586.1,946.4C1588.5,948.5 1590.6,950.5 1593.7,951.7C1596.8,952.9 1599.9,952.2 1603.1,953.0C1606.3,953.8 1609.0,953.8 1611.7,955.9C1614.4,958.0 1615.4,962.0 1618.3,964.4C1621.2,966.8 1624.4,967.8 1627.8,969.2C1631.2,970.6 1634.9,971.2 1637.3,972.0C1639.7,972.8 1640.9,972.5 1641.1,973.9C1641.3,975.3 1639.7,977.2 1638.2,979.6C1636.7,982.0 1632.8,984.1 1632.5,987.2C1632.2,990.3 1635.0,993.6 1636.3,996.7C1637.6,999.8 1640.4,1002.2 1639.6,1004.3C1638.8,1006.4 1634.8,1006.2 1631.6,1008.1C1628.4,1010.0 1625.0,1013.4 1622.1,1014.7C1619.2,1016.1 1618.4,1012.9 1615.5,1015.6C1612.6,1018.3 1608.3,1026.0 1606.0,1029.9C1603.7,1033.8 1603.0,1032.4 1602.8,1037.5C1602.6,1042.6 1605.2,1053.9 1604.7,1058.3C1604.2,1062.7 1603.0,1061.5 1600.3,1061.7C1597.6,1061.9 1593.5,1058.9 1589.9,1059.3C1586.3,1059.7 1583.5,1062.1 1580.4,1064.0C1577.3,1065.9 1574.5,1067.0 1572.8,1069.7C1571.1,1072.4 1572.3,1076.6 1570.9,1079.2C1569.5,1081.8 1568.3,1082.9 1565.2,1083.9C1562.1,1084.9 1558.2,1084.4 1553.8,1084.9C1549.4,1085.4 1542.6,1088.9 1540.5,1086.8C1538.4,1084.7 1542.7,1077.1 1542.4,1073.5C1542.1,1069.9 1541.0,1069.0 1538.6,1066.9C1536.2,1064.8 1532.9,1063.6 1529.2,1062.1C1525.5,1060.6 1520.4,1061.0 1517.8,1058.3C1515.2,1055.6 1515.8,1050.6 1514.9,1046.9C1514.0,1043.2 1512.5,1039.9 1513.0,1037.5C1513.5,1035.1 1516.6,1035.6 1517.4,1033.7C1518.2,1031.8 1518.4,1029.1 1517.4,1027.0C1516.4,1024.9 1513.2,1024.4 1511.7,1022.3C1510.2,1020.2 1512.2,1016.7 1509.2,1015.6C1506.2,1014.5 1500.1,1016.3 1495.0,1016.2C1489.9,1016.1 1484.0,1015.9 1480.8,1015.1C1477.6,1014.3 1478.2,1013.2 1477.0,1011.8C1475.8,1010.4 1475.6,1008.3 1474.1,1007.5C1472.6,1006.7 1471.2,1007.0 1468.5,1007.1C1465.8,1007.2 1461.1,1009.4 1459.0,1008.0C1456.9,1006.6 1456.7,1003.4 1456.7,999.5C1456.7,995.6 1458.9,991.0 1459.0,986.2C1459.1,981.4 1457.9,978.1 1457.1,973.0C1456.3,967.9 1455.2,960.5 1454.8,957.8C1454.4,955.1 1453.0,958.7 1454.8,957.8Z" fill="#fff" fill-opacity="0.10" stroke="#fff" stroke-opacity="0.95" stroke-width="2" stroke-linejoin="round"/>
<path d="M1410.1,1050.2C1415.5,1050.8 1429.1,1052.6 1440.0,1053.6C1450.9,1054.6 1462.9,1054.5 1470.4,1055.5C1477.9,1056.5 1477.3,1057.1 1481.7,1059.3C1486.1,1061.5 1490.9,1067.0 1495.0,1067.8C1499.1,1068.6 1500.4,1065.7 1504.5,1064.0C1508.6,1062.3 1515.4,1059.3 1517.8,1058.3" fill="none" stroke="#fff" stroke-opacity="0.8" stroke-width="1.8" stroke-linejoin="round"/>
<path d="M1540.5,1086.8C1541.1,1089.2 1541.9,1093.1 1544.0,1100.0C1546.1,1106.9 1549.8,1114.2 1552.0,1125.0C1554.2,1135.8 1555.3,1153.7 1556.0,1160.0" fill="none" stroke="#fff" stroke-opacity="0.8" stroke-width="1.8" stroke-linejoin="round"/>
<path d="M1686.6,954.9C1688.1,955.4 1691.7,956.3 1695.0,957.8C1698.3,959.3 1701.2,962.6 1705.0,963.5C1708.8,964.4 1712.2,962.4 1716.0,963.0C1719.8,963.6 1723.5,964.8 1726.0,967.0C1728.5,969.2 1723.9,973.6 1730.0,975.0C1736.1,976.4 1754.6,975.0 1760.0,975.0" fill="none" stroke="#fff" stroke-opacity="0.8" stroke-width="1.8" stroke-linejoin="round"/>
<path d="M1669.8,681.5C1670.3,679.0 1668.3,673.7 1672.8,667.5C1677.3,661.3 1686.7,654.0 1694.9,646.8C1703.1,639.6 1713.8,634.2 1718.6,627.6C1723.4,621.0 1717.3,615.5 1721.5,609.9C1725.7,604.3 1735.3,602.2 1742.2,596.6C1749.1,591.0 1756.8,582.0 1760.0,578.8" fill="none" stroke="#fff" stroke-opacity="0.8" stroke-width="1.8" stroke-linejoin="round"/>
</g>
<text x="1582.2" y="813.3" font-size="28.8" font-style="italic" fill="#fff" fill-opacity="0.85" textLength="48.0" lengthAdjust="spacingAndGlyphs">EST</text>
<text x="1588.5" y="917.6" font-size="28.8" font-style="italic" fill="#fff" fill-opacity="0.85" textLength="48.4" lengthAdjust="spacingAndGlyphs">LAT</text>
<text x="1526.7" y="1004.8" font-size="28.8" font-style="italic" fill="#fff" fill-opacity="0.85" textLength="49.6" lengthAdjust="spacingAndGlyphs">LTU</text>

<rect x="578" y="292.1" width="709.6" height="17.2" fill="#173a52"/>
<rect x="578" y="309.0" width="766.0" height="18.9" fill="#15a3bb"/>
<rect x="578" y="327.6" width="756.0" height="19.4" fill="#7f9cc9"/>
<rect x="578" y="346.7" width="812.4" height="20.0" fill="#b7c4df"/>
<rect x="578" y="375.2" width="560.5" height="18.5" fill="#173a52"/>
<rect x="578" y="393.4" width="721.9" height="20.3" fill="#15a3bb"/>
<rect x="578" y="413.4" width="797.6" height="19.2" fill="#7f9cc9"/>
<rect x="578" y="432.3" width="806.1" height="18.6" fill="#b7c4df"/>
<rect x="578" y="459.9" width="480.9" height="19.3" fill="#173a52"/>
<rect x="578" y="478.9" width="538.4" height="18.9" fill="#15a3bb"/>
<rect x="578" y="497.5" width="591.0" height="19.8" fill="#7f9cc9"/>
<rect x="578" y="517.0" width="571.4" height="19.0" fill="#b7c4df"/>
<rect x="578" y="544.0" width="456.7" height="19.6" fill="#173a52"/>
<rect x="578" y="563.3" width="424.8" height="19.8" fill="#15a3bb"/>
<rect x="578" y="582.8" width="451.6" height="19.0" fill="#7f9cc9"/>
<rect x="578" y="601.5" width="395.2" height="19.5" fill="#b7c4df"/>
<rect x="578" y="629.4" width="431.9" height="18.9" fill="#173a52"/>
<rect x="578" y="648.0" width="554.0" height="19.6" fill="#15a3bb"/>
<rect x="578" y="667.3" width="610.6" height="19.8" fill="#7f9cc9"/>
<rect x="578" y="686.8" width="610.6" height="18.2" fill="#b7c4df"/>
<rect x="578" y="712.9" width="376.8" height="20.7" fill="#173a52"/>
<rect x="578" y="733.3" width="381.7" height="18.7" fill="#15a3bb"/>
<rect x="578" y="751.7" width="347.3" height="19.8" fill="#7f9cc9"/>
<rect x="578" y="771.2" width="418.5" height="19.9" fill="#b7c4df"/>
<rect x="578" y="797.2" width="353.0" height="19.8" fill="#173a52"/>
<rect x="578" y="816.7" width="332.6" height="20.8" fill="#15a3bb"/>
<rect x="578" y="837.2" width="395.2" height="18.6" fill="#7f9cc9"/>
<rect x="578" y="855.5" width="309.8" height="19.5" fill="#b7c4df"/>
<rect x="578" y="971.1" width="94.3" height="20.0" fill="#173a52"/>
<rect x="578" y="990.8" width="106.5" height="19.4" fill="#15a3bb"/>
<rect x="578" y="1009.9" width="93.0" height="21.0" fill="#7f9cc9"/>
<rect x="578" y="1030.6" width="94.3" height="18.4" fill="#b7c4df"/>
<rect x="578" y="915.8" width="268.6" height="19.1" fill="#173a52"/>
<rect x="577" y="292" width="1.2" height="760" fill="#868686"/>
<rect x="577" y="370.2" width="8.2" height="1.2" fill="#868686"/>
<rect x="577" y="454.4" width="8.2" height="1.2" fill="#868686"/>
<rect x="577" y="538.8" width="8.2" height="1.2" fill="#868686"/>
<rect x="577" y="624.8" width="8.2" height="1.2" fill="#868686"/>
<rect x="577" y="709.0" width="8.2" height="1.2" fill="#868686"/>
<rect x="577" y="794.6" width="8.2" height="1.2" fill="#868686"/>
<rect x="577" y="879.4" width="8.2" height="1.2" fill="#868686"/>
<rect x="577" y="965.7" width="8.2" height="1.2" fill="#868686"/>
<rect x="577" y="1051.0" width="8.2" height="1.2" fill="#868686"/>
<text x="1302.2" y="306.7" font-size="20" fill="#111" font-weight="normal" font-style="normal" text-anchor="start" textLength="39.9" lengthAdjust="spacingAndGlyphs" >59%</text>
<text x="1352.0" y="325.3" font-size="20" fill="#111" font-weight="normal" font-style="normal" text-anchor="start" textLength="45.4" lengthAdjust="spacingAndGlyphs" >64%</text>
<text x="1346.7" y="345.2" font-size="20" fill="#111" font-weight="normal" font-style="normal" text-anchor="start" textLength="41.7" lengthAdjust="spacingAndGlyphs" >63%</text>
<text x="1404.0" y="365.0" font-size="20" fill="#111" font-weight="normal" font-style="normal" text-anchor="start" textLength="42.4" lengthAdjust="spacingAndGlyphs" >68%</text>
<text x="1152.4" y="391.4" font-size="20" fill="#111" font-weight="normal" font-style="normal" text-anchor="start" textLength="42.4" lengthAdjust="spacingAndGlyphs" >47%</text>
<text x="1311.3" y="411.1" font-size="20" fill="#111" font-weight="normal" font-style="normal" text-anchor="start" textLength="46.9" lengthAdjust="spacingAndGlyphs" >60%</text>
<text x="1387.7" y="430.8" font-size="20" fill="#111" font-weight="normal" font-style="normal" text-anchor="start" textLength="42.4" lengthAdjust="spacingAndGlyphs" >66%</text>
<text x="1396.2" y="449.2" font-size="20" fill="#111" font-weight="normal" font-style="normal" text-anchor="start" textLength="42.5" lengthAdjust="spacingAndGlyphs" >67%</text>
<text x="1072.8" y="477.5" font-size="20" fill="#111" font-weight="normal" font-style="normal" text-anchor="start" textLength="45.0" lengthAdjust="spacingAndGlyphs" >40 %</text>
<text x="1129.6" y="495.7" font-size="20" fill="#111" font-weight="normal" font-style="normal" text-anchor="start" textLength="42.4" lengthAdjust="spacingAndGlyphs" >45%</text>
<text x="1182.2" y="515.5" font-size="20" fill="#111" font-weight="normal" font-style="normal" text-anchor="start" textLength="41.0" lengthAdjust="spacingAndGlyphs" >49%</text>
<text x="1162.9" y="534.8" font-size="20" fill="#111" font-weight="normal" font-style="normal" text-anchor="start" textLength="41.0" lengthAdjust="spacingAndGlyphs" >48%</text>
<text x="1047.7" y="561.5" font-size="20" fill="#111" font-weight="normal" font-style="normal" text-anchor="start" textLength="45.9" lengthAdjust="spacingAndGlyphs" >38 %</text>
<text x="1017.0" y="581.3" font-size="20" fill="#111" font-weight="normal" font-style="normal" text-anchor="start" textLength="46.1" lengthAdjust="spacingAndGlyphs" >35 %</text>
<text x="1043.0" y="600.0" font-size="20" fill="#111" font-weight="normal" font-style="normal" text-anchor="start" textLength="40.6" lengthAdjust="spacingAndGlyphs" >38%</text>
<text x="987.9" y="619.0" font-size="20" fill="#111" font-weight="normal" font-style="normal" text-anchor="start" textLength="40.4" lengthAdjust="spacingAndGlyphs" >33%</text>
<text x="1024.7" y="644.3" font-size="20" fill="#111" font-weight="normal" font-style="normal" text-anchor="start" textLength="41.1" lengthAdjust="spacingAndGlyphs" >36%</text>
<text x="1144.7" y="665.0" font-size="20" fill="#111" font-weight="normal" font-style="normal" text-anchor="start" textLength="42.9" lengthAdjust="spacingAndGlyphs" >46%</text>
<text x="1202.6" y="684.4" font-size="20" fill="#111" font-weight="normal" font-style="normal" text-anchor="start" textLength="40.4" lengthAdjust="spacingAndGlyphs" >51%</text>
<text x="1203.1" y="703.8" font-size="20" fill="#111" font-weight="normal" font-style="normal" text-anchor="start" textLength="40.7" lengthAdjust="spacingAndGlyphs" >51%</text>
<text x="969.3" y="731.5" font-size="20" fill="#111" font-weight="normal" font-style="normal" text-anchor="start" textLength="45.1" lengthAdjust="spacingAndGlyphs" >31 %</text>
<text x="974.5" y="750.3" font-size="20" fill="#111" font-weight="normal" font-style="normal" text-anchor="start" textLength="45.6" lengthAdjust="spacingAndGlyphs" >32 %</text>
<text x="937.8" y="769.2" font-size="20" fill="#111" font-weight="normal" font-style="normal" text-anchor="start" textLength="41.7" lengthAdjust="spacingAndGlyphs" >29%</text>
<text x="1010.7" y="789.1" font-size="20" fill="#111" font-weight="normal" font-style="normal" text-anchor="start" textLength="41.2" lengthAdjust="spacingAndGlyphs" >35%</text>
<text x="945.6" y="816.3" font-size="20" fill="#111" font-weight="normal" font-style="normal" text-anchor="start" textLength="46.0" lengthAdjust="spacingAndGlyphs" >29 %</text>
<text x="924.9" y="834.9" font-size="20" fill="#111" font-weight="normal" font-style="normal" text-anchor="start" textLength="46.0" lengthAdjust="spacingAndGlyphs" >28 %</text>
<text x="986.6" y="853.8" font-size="20" fill="#111" font-weight="normal" font-style="normal" text-anchor="start" textLength="40.7" lengthAdjust="spacingAndGlyphs" >33%</text>
<text x="900.2" y="873.6" font-size="20" fill="#111" font-weight="normal" font-style="normal" text-anchor="start" textLength="41.4" lengthAdjust="spacingAndGlyphs" >26%</text>
<text x="859.2" y="933.1" font-size="20" fill="#111" font-weight="normal" font-style="normal" text-anchor="start" textLength="45.2" lengthAdjust="spacingAndGlyphs" >20%</text>
<text x="686.6" y="988.7" font-size="20" fill="#111" font-weight="normal" font-style="normal" text-anchor="start" textLength="33.9" lengthAdjust="spacingAndGlyphs" >8 %</text>
<text x="700.3" y="1009.4" font-size="20" fill="#111" font-weight="normal" font-style="normal" text-anchor="start" textLength="32.6" lengthAdjust="spacingAndGlyphs" >9 %</text>
<text x="686.6" y="1028.0" font-size="20" fill="#111" font-weight="normal" font-style="normal" text-anchor="start" textLength="29.0" lengthAdjust="spacingAndGlyphs" >8%</text>
<text x="686.6" y="1046.9" font-size="20" fill="#111" font-weight="normal" font-style="normal" text-anchor="start" textLength="29.0" lengthAdjust="spacingAndGlyphs" >8%</text>
<text x="372.4" y="335.2" font-size="21.5" fill="#111" font-weight="normal" font-style="normal" text-anchor="start" textLength="183.8" lengthAdjust="spacingAndGlyphs" >Dalia Grybauskaitė</text>
<text x="384.5" y="419.7" font-size="21.5" fill="#111" font-weight="normal" font-style="normal" text-anchor="start" textLength="171.7" lengthAdjust="spacingAndGlyphs" >Saulius Skvernelis</text>
<text x="364.1" y="503.4" font-size="21.5" fill="#111" font-weight="normal" font-style="normal" text-anchor="start" textLength="191.5" lengthAdjust="spacingAndGlyphs" >Viktoras Pranckietis</text>
<text x="371.4" y="589.0" font-size="21.5" fill="#111" font-weight="normal" font-style="normal" text-anchor="start" textLength="184.1" lengthAdjust="spacingAndGlyphs" >Remigijus Šimašius</text>
<text x="354.5" y="673.4" font-size="21.5" fill="#111" font-weight="normal" font-style="normal" text-anchor="start" textLength="200.7" lengthAdjust="spacingAndGlyphs" >Ramūnas Karbauskis</text>
<text x="335.6" y="758.6" font-size="21.5" fill="#111" font-weight="normal" font-style="normal" text-anchor="start" textLength="220.7" lengthAdjust="spacingAndGlyphs" >Gabrielius Landsbergis</text>
<text x="348.3" y="843.1" font-size="21.5" fill="#111" font-weight="normal" font-style="normal" text-anchor="start" textLength="208.0" lengthAdjust="spacingAndGlyphs" >Remigijus Žemaitaitis</text>
<text x="390.0" y="929.3" font-size="19.4" fill="#111" font-weight="normal" font-style="normal" text-anchor="start" textLength="172.7" lengthAdjust="spacingAndGlyphs" >Gintautas Paluckas*</text>
<text x="343.4" y="1016.2" font-size="21.5" fill="#111" font-weight="normal" font-style="normal" text-anchor="start" textLength="212.6" lengthAdjust="spacingAndGlyphs" >Valdemar Tomaševski</text>
<rect x="346.8" y="1083.6" width="13.3" height="13" fill="#173a52"/>
<text x="366.8" y="1096.9" font-size="20.5" fill="#111" font-weight="normal" font-style="normal" text-anchor="start" textLength="209.8" lengthAdjust="spacingAndGlyphs" >2017 gegužė, N=1017</text>
<rect x="592.9" y="1083.6" width="13.3" height="13" fill="#15a3bb"/>
<text x="637.7" y="1096.9" font-size="20.5" fill="#111" font-weight="normal" font-style="normal" text-anchor="start" textLength="197.4" lengthAdjust="spacingAndGlyphs" >17 balandis, N=1021</text>
<rect x="851.3" y="1083.6" width="13.3" height="13" fill="#7f9cc9"/>
<text x="871.0" y="1096.9" font-size="20.5" fill="#111" font-weight="normal" font-style="normal" text-anchor="start" textLength="185.5" lengthAdjust="spacingAndGlyphs" >2017 kovas, N=853</text>
<rect x="1077.3" y="1083.6" width="13.3" height="13" fill="#b7c4df"/>
<text x="1095.8" y="1096.9" font-size="20.5" fill="#111" font-weight="normal" font-style="normal" text-anchor="start" textLength="208.9" lengthAdjust="spacingAndGlyphs" >2017 vasaris, N=1020</text>
<text x="340.9" y="1126.5" font-size="16.5" fill="#111" font-weight="normal" font-style="normal" text-anchor="start" textLength="261.4" lengthAdjust="spacingAndGlyphs" >* Pirmą kartą įtrauktas į sąrašą</text>
<path fill="#12254a" fill-rule="evenodd" d="M78.5,1011.75 H114.7 C131,1011.75 139.8,1024 139.8,1040.1 C139.8,1052 134.6,1061 126.5,1065.2 L136.8,1083 L118.4,1083 L109.5,1068.2 L95.5,1068.2 V1083 H78.5 Z M95.5,1028.3 H112.4 C119,1028.3 122.8,1033.5 122.8,1040.1 C122.8,1046.8 119,1051.9 112.4,1051.9 H95.5 Z"/>
<polygon fill="#0cbcd6" points="130.8,1011.7 146.5,1011.7 162.8,1039.3 156.8,1049.6"/>
<polygon fill="#12254a" points="179.9,1014.7 196.5,1043.4 185.7,1057.4 179.9,1048.1 160.1,1082.6 141.3,1082.6"/>
<polygon fill="#12254a" points="202.8,1054.7 192.5,1069.8 200,1082.6 219,1082.6"/>
<polygon fill="#0cbcd6" points="175.6,1060.5 170.2,1069.6 180.1,1083.8 262.4,961.8 180.4,1068.1"/>
<polygon fill="#12254a" points="233.8,1011.75 239.6,1011.75 239.6,1082.6 223.4,1082.6 223.4,1024.8"/>
<polygon fill="#12254a" points="242.4,1011.75 290.5,1011.75 290.5,1028 277.2,1028 277.2,1083 258.7,1083 258.7,1028 242.4,1028"/>
<text x="140" y="1097.8" font-size="10.4" font-weight="bold" fill="#12254a" textLength="151" lengthAdjust="spacingAndGlyphs">WHEN YOU DO IT, DO IT RIGHT</text>

</svg>
</body></html>
